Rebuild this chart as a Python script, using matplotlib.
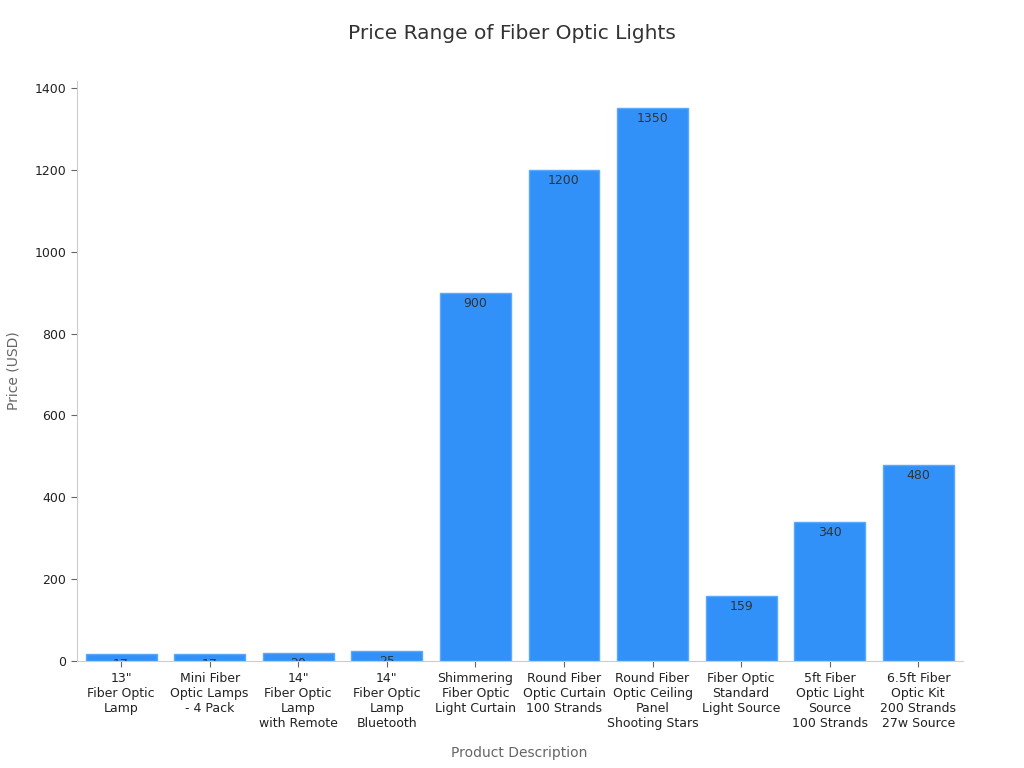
import matplotlib.pyplot as plt

# Chart data
products = [
    '13"\nFiber Optic\nLamp',
    'Mini Fiber\nOptic Lamps\n- 4 Pack',
    '14"\nFiber Optic\nLamp\nwith Remote',
    '14"\nFiber Optic\nLamp\nBluetooth',
    'Shimmering\nFiber Optic\nLight Curtain',
    'Round Fiber\nOptic Curtain\n100 Strands',
    'Round Fiber\nOptic Ceiling\nPanel\nShooting Stars',
    'Fiber Optic\nStandard\nLight Source',
    '5ft Fiber\nOptic Light\nSource\n100 Strands',
    '6.5ft Fiber\nOptic Kit\n200 Strands\n27w Source',
]
prices = [17, 17, 20, 25, 900, 1200, 1350, 159, 340, 480]
y_ticks = [0, 200, 400, 600, 800, 1000, 1200, 1400]

bar_color = '#3291f8'
edge_color = '#5aa8fb'
text_dark = '#333333'
axis_gray = '#666666'
spine_gray = '#cccccc'

fig, ax = plt.subplots(figsize=(10.24, 7.68), dpi=100)
fig.subplots_adjust(left=0.075, right=0.94, top=0.895, bottom=0.139)

x = list(range(len(products)))
bars = ax.bar(x, prices, width=0.8, color=bar_color, edgecolor=edge_color, linewidth=1)

# value labels just inside the bar tops, clipped by the bar like the original
for rect, val in zip(bars, prices):
    t = ax.annotate(f'{val}', xy=(rect.get_x() + rect.get_width() / 2, rect.get_height()),
                    xytext=(0, -3), textcoords='offset points', ha='center', va='top',
                    fontsize=9, color=text_dark)
    t.set_clip_path(rect)

ax.set_xlim(-0.5, len(products) - 0.5)
ax.set_ylim(0, 1417.5)
ax.set_yticks(y_ticks)
ax.set_xticks(x)
ax.set_xticklabels(products, fontsize=9, color='#222222')
ax.tick_params(axis='y', labelsize=9, labelcolor='#222222', color=axis_gray, length=4)
ax.tick_params(axis='x', color=axis_gray, length=4)

for side in ['top', 'right']:
    ax.spines[side].set_visible(False)
for side in ['left', 'bottom']:
    ax.spines[side].set_color(spine_gray)

fig.text(0.5, 0.957, 'Price Range of Fiber Optic Lights', fontsize=14.5, color=text_dark,
         ha='center', va='center')
ax.set_xlabel('Product Description', fontsize=10, color=axis_gray, labelpad=12)
ax.set_ylabel('Price (USD)', fontsize=10, color=axis_gray, labelpad=10)

plt.savefig('out.png', dpi=100)
